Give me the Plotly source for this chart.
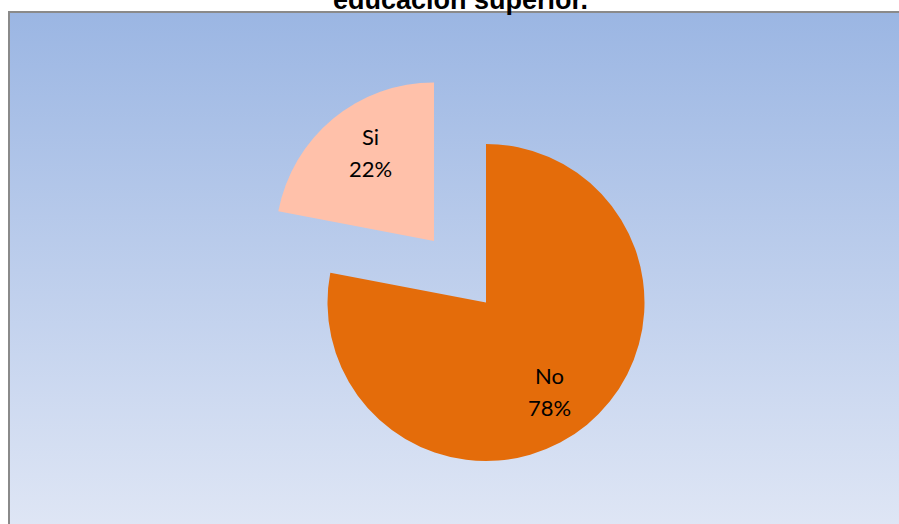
import base64
import math
import plotly.graph_objects as go

labels = ["No", "Si"]
values = [78, 22]
slice_colors = ["#E46C0A", "#FFC1AA"]
title_text = "educación superior."

W, H = 899, 524

svg = (
    '<svg xmlns="http://www.w3.org/2000/svg" width="100" height="100" preserveAspectRatio="none">'
    '<defs><linearGradient id="g" x1="0" y1="0" x2="0" y2="1">'
    '<stop offset="0" stop-color="#9BB6E3"/>'
    '<stop offset="1" stop-color="#DFE6F5"/>'
    '</linearGradient></defs>'
    '<rect width="100" height="100" fill="url(#g)"/></svg>'
)
bg_uri = "data:image/svg+xml;base64," + base64.b64encode(svg.encode()).decode()


def dom(cx, cy, r):
    return dict(x=[(cx - r) / W, (cx + r) / W], y=[1 - (cy + r) / H, 1 - (cy - r) / H])


R = 158.5
centers = [(486, 302.5), (434, 241)]  # main pie centre, exploded slice centre

common = dict(
    labels=labels,
    values=values,
    sort=False,
    direction="clockwise",
    rotation=0,
    textinfo="none",
    hoverinfo="label+percent",
    showlegend=False,
)

fig = go.Figure()
fig.add_trace(go.Pie(
    domain=dom(*centers[0], R),
    marker=dict(colors=[slice_colors[0], "rgba(0,0,0,0)"], line=dict(width=0)),
    **common,
))
fig.add_trace(go.Pie(
    domain=dom(*centers[1], R),
    marker=dict(colors=["rgba(0,0,0,0)", slice_colors[1]], line=dict(width=0)),
    **common,
))

# Labels placed along each slice's mid angle (computed from the data)
annotations = []
total = sum(values)
start = 0.0
for i, (lab, v) in enumerate(zip(labels, values)):
    frac = v / total
    mid = (start + frac / 2) * 2 * math.pi + math.radians(4)
    start += frac
    cx, cy = centers[i]
    px = cx + 0.69 * R * math.sin(mid)
    py = cy - 0.69 * R * math.cos(mid)
    for txt, dy in ((lab, -16), (f"{round(frac * 100)}%", 16)):
        annotations.append(dict(
            text=txt, xref="paper", yref="paper", x=px / W, y=1 - py / H,
            yshift=-dy, xanchor="center", yanchor="middle", showarrow=False,
            font=dict(family="Lato, Carlito, sans-serif", size=22, color="#000000"),
        ))

annotations.append(dict(
    text="<b>" + title_text + "</b>", xref="paper", yref="paper",
    x=460 / W, y=1 - 17 / H, xanchor="center", yanchor="bottom",
    showarrow=False, font=dict(family="Liberation Sans, Arial", size=27, color="#000000"),
))

fig.update_layout(
    width=W,
    height=H,
    margin=dict(l=0, r=0, t=0, b=0),
    paper_bgcolor="#FFFFFF",
    plot_bgcolor="#FFFFFF",
    images=[dict(
        source=bg_uri, xref="paper", yref="paper",
        x=8 / W, y=1 - 12 / H, sizex=(W - 8) / W, sizey=1 - 12 / H + 0.01,
        sizing="stretch", layer="below", xanchor="left", yanchor="top",
    )],
    shapes=[
        dict(type="line", xref="paper", yref="paper", x0=9 / W, x1=9 / W, y0=-0.01, y1=1 - 11 / H,
             line=dict(color="#8A8A8A", width=2)),
        dict(type="line", xref="paper", yref="paper", x0=8 / W, x1=1, y0=1 - 12 / H, y1=1 - 12 / H,
             line=dict(color="#8A8A8A", width=2)),
    ],
    annotations=annotations,
)

fig.write_html("out.html", config={"displayModeBar": False},
               post_script="document.body.style.margin='0';")
